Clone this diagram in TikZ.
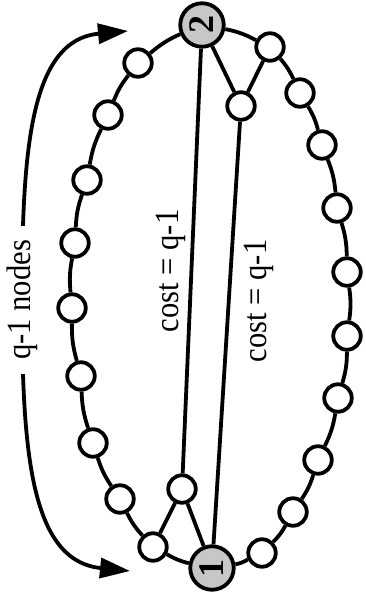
\documentclass[tikz,border=0pt]{standalone}
\usepackage{fontspec}
\setmainfont{Liberation Serif}
\newfontfamily\labelfont[FakeStretch=0.9]{Liberation Serif}
\usetikzlibrary{arrows.meta}

\begin{document}
\begin{tikzpicture}[
		x=1pt, y=-1pt,
		line width=3.8pt,
		every node/.style={font=\labelfont\fontsize{34}{40}\selectfont},
		ring node/.style={circle, draw, fill=white, minimum size=27.5pt, inner sep=0pt},
		end node/.style={circle, draw, fill=black!22, minimum size=43.5pt, inner sep=0pt, rotate=90, font=\fontsize{36}{40}\selectfont\bfseries},
		ring arc/.style={bend right=8},
		cost label/.style={rotate=90},
		count label/.style={rotate=90, fill=white, inner xsep=14pt, inner ysep=0pt},
		count arrow/.style={<->, >={Triangle[length=30pt, width=20pt]}}
		]
	\useasboundingbox (0, 0) rectangle (365, 601);

	% End nodes
	\node[end node] (n2) at (202, 25) {2};
	\node[end node] (n1) at (212, 568) {1};

	% Inner nodes
	\node[ring node] (t) at (241, 106) {};
	\node[ring node] (b) at (182, 489) {};

	% Left side of the ring
	\foreach \i/\x/\y in {1/138/63, 2/108/115, 3/87/180, 4/75/243, 5/72/308, 6/81/376, 7/93/443, 8/120/499, 9/153/547}{
		\node[ring node] (l\i) at (\x, \y) {};
	}

	% Right side of the ring
	\foreach \i/\x/\y in {1/270/47, 2/300/93, 3/322/145, 4/337/208, 5/347/272, 6/347/336, 7/338/398, 8/318/460, 9/293/512, 10/262/553}{
		\node[ring node] (r\i) at (\x, \y) {};
	}

	% Ring edges, going round counterclockwise
	\draw (n2) to[ring arc] (l1);
	\foreach \i [evaluate=\i as \j using int(\i+1)] in {1,...,8}{
		\draw (l\i) to[ring arc] (l\j);
	}
	\draw (l9) to[ring arc] (n1);
	\draw (n1) to[ring arc] (r10);
	\foreach \i [evaluate=\i as \j using int(\i+1)] in {1,...,9}{
		\draw (r\j) to[ring arc] (r\i);
	}
	\draw (r1) to[ring arc] (n2);

	% Shortcuts
	\draw (n2) -- (t) -- (r1);
	\draw (n1) -- (b) -- (l9);
	\draw (n2) -- (b);
	\draw (t) -- (n1);

	% Cost labels
	\node[cost label] (c1) at (171, 271) {cost = q-1};
	\node[cost label] (c2) at (259, 301) {cost = q-1};

	% Count arrow
	\coordinate (qtop) at (128, 31);
	\coordinate (qbot) at (130, 571);
	\draw[count arrow] (qtop) .. controls (30, 40) and (22, 150) .. (22, 300) .. controls (22, 450) and (30, 561) .. (qbot);
	\node[count label] (qcount) at (22, 300) {q-1 nodes};

\end{tikzpicture}
\end{document}
